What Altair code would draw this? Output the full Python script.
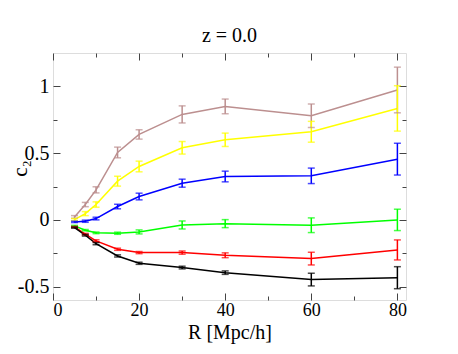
import altair as alt
import pandas as pd

# ---- data ----
R = [5, 7.5, 10, 15, 20, 30, 40, 60, 80]

series_names = ["brown", "yellow", "blue", "green", "red", "black"]
series_colors = ["#bc8f8f", "#ffff00", "#0000ff", "#00ff00", "#ff0000", "#000000"]

brown = [0.022, 0.115, 0.225, 0.505, 0.64, 0.79, 0.85, 0.78, 0.973]
brown_err = [0.01, 0.016, 0.023, 0.04, 0.035, 0.064, 0.055, 0.088, 0.171]
yellow = [0.002, 0.047, 0.115, 0.29, 0.40, 0.54, 0.60, 0.66, 0.835]
yellow_err = [0.008, 0.015, 0.02, 0.037, 0.04, 0.047, 0.05, 0.078, 0.17]
blue = [-0.015, -0.01, 0.01, 0.10, 0.175, 0.275, 0.325, 0.33, 0.455]
blue_err = [0.005, 0.008, 0.01, 0.017, 0.025, 0.03, 0.04, 0.058, 0.119]
green = [-0.045, -0.077, -0.097, -0.10, -0.09, -0.038, -0.028, -0.04, 0.0]
green_err = [0.004, 0.005, 0.006, 0.008, 0.015, 0.03, 0.03, 0.055, 0.08]
red = [-0.053, -0.107, -0.157, -0.22, -0.245, -0.245, -0.265, -0.29, -0.225]
red_err = [0.004, 0.006, 0.008, 0.008, 0.008, 0.012, 0.018, 0.0475, 0.075]
black = [-0.058, -0.115, -0.178, -0.27, -0.325, -0.357, -0.395, -0.447, -0.433]
black_err = [0.004, 0.006, 0.008, 0.008, 0.008, 0.01, 0.013, 0.0475, 0.0825]

values = [brown, yellow, blue, green, red, black]
errors = [brown_err, yellow_err, blue_err, green_err, red_err, black_err]

x_ticks = [0, 10, 20, 30, 40, 50, 60, 70, 80]
y_ticks = [-0.5, -0.25, 0, 0.25, 0.5, 0.75, 1]

rows = []
for name, vals, errs in zip(series_names, values, errors):
    for r, v, e in zip(R, vals, errs):
        rows.append({"series": name, "R": r, "c2": v, "lo": v - e, "hi": v + e})
df = pd.DataFrame(rows)

W, H = 353, 247
FONT = "Liberation Serif, Times New Roman, serif"
FRAME = "#444444"

xscale = alt.Scale(domain=[0, 82], nice=False, zero=False)
yscale = alt.Scale(domain=[-0.6, 1.25], nice=False, zero=False)
color = alt.Color("series:N", scale=alt.Scale(domain=series_names, range=series_colors), legend=None)

major_x = "datum.value % 20 === 0"
major_y = "datum.value % 0.5 === 0"

x_main = alt.Axis(values=x_ticks, ticks=False, domain=False, grid=False,
                  labelExpr=f"{major_x} ? datum.label : ''",
                  labelFont=FONT, labelFontSize=18, labelColor="black", labelPadding=1,
                  title="R [Mpc/h]", titleFont=FONT, titleFontSize=20, titleFontWeight="normal",
                  titleColor="black", titleBaseline="top", titleY=22)
y_main = alt.Axis(values=y_ticks, ticks=False, domain=False, grid=False,
                  labelExpr=f"{major_y} ? toString(datum.value) : ''",
                  labelFont=FONT, labelFontSize=20, labelColor="black", labelPadding=4,
                  title="c₂", titleFont=FONT, titleFontSize=21, titleFontWeight="normal",
                  titleColor="black", titleX=-33, titleY=115, titleAngle=-90,
                  titleAlign="center", titleBaseline="middle")

def tick_axis(orient, vals, test, offset):
    return alt.Axis(orient=orient, values=vals, offset=offset, labels=False, domain=False,
                    grid=False, title=None, tickColor=FRAME, tickWidth=1,
                    tickSize={"condition": {"test": test, "value": 7}, "value": 4})

base = alt.Chart(df)

lines = base.mark_line(strokeWidth=1.5).encode(
    x=alt.X("R:Q", scale=xscale, axis=x_main),
    y=alt.Y("c2:Q", scale=yscale, axis=y_main),
    color=color,
    detail="series:N",
)
bars = base.mark_rule(strokeWidth=1.5).encode(
    x=alt.X("R:Q", scale=xscale, axis=None),
    y=alt.Y("lo:Q", scale=yscale, axis=None),
    y2="hi:Q",
    color=color,
)
cap_lo = base.mark_tick(orient="horizontal", size=7, thickness=1.5).encode(
    x=alt.X("R:Q", scale=xscale, axis=None),
    y=alt.Y("lo:Q", scale=yscale, axis=None),
    color=color,
)
cap_hi = base.mark_tick(orient="horizontal", size=7, thickness=1.5).encode(
    x=alt.X("R:Q", scale=xscale, axis=None),
    y=alt.Y("hi:Q", scale=yscale, axis=None),
    color=color,
)
# invisible layers carrying inward-pointing tick axes
ticks_a = base.mark_point(opacity=0).encode(
    x=alt.X("R:Q", scale=xscale, axis=tick_axis("bottom", x_ticks, major_x, -H)),
    y=alt.Y("c2:Q", scale=yscale, axis=tick_axis("left", y_ticks, major_y, -W)),
)
ticks_b = base.mark_point(opacity=0).encode(
    x=alt.X("R:Q", scale=xscale, axis=tick_axis("top", x_ticks, major_x, -H)),
    y=alt.Y("c2:Q", scale=yscale, axis=tick_axis("right", y_ticks, major_y, -W)),
)

chart = alt.layer(lines, bars, cap_lo, cap_hi, ticks_a, ticks_b).resolve_axis(
    x="independent", y="independent"
).properties(
    width=W, height=H,
    title=alt.TitleParams("z = 0.0", font=FONT, fontSize=20, fontWeight="normal",
                          color="black", anchor="middle", baseline="alphabetic", offset=-9),
    autosize=alt.AutoSizeParams(type="none"),
    padding={"left": 45, "top": 45, "right": 44, "bottom": 46},
).configure_view(stroke=FRAME, strokeWidth=1).configure(background="white")

chart.save("out.html", embed_options={"renderer": "svg", "actions": False})
